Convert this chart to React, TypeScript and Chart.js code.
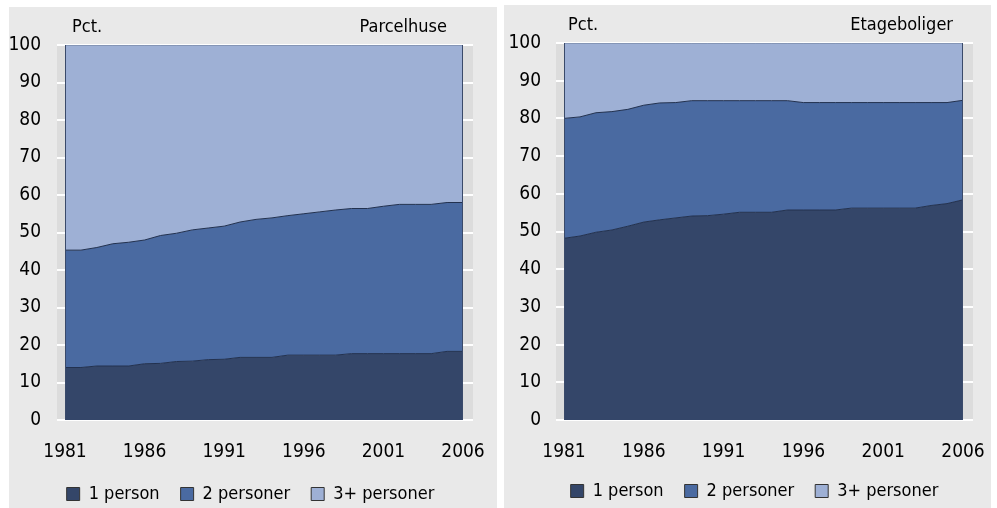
import React, { useEffect, useRef } from 'react';
import { Chart, registerables } from 'chart.js';

Chart.register(...registerables);

const YEARS = ['1981','1982','1983','1984','1985','1986','1987','1988','1989','1990','1991','1992','1993','1994','1995','1996','1997','1998','1999','2000','2001','2002','2003','2004','2005','2006'];
const SERIES_LABELS = ['1 person', '2 personer', '3+ personer'];

// Parcelhuse (percent shares)
const PARCEL_ONE = [14.0,14.0,14.4,14.4,14.4,15.0,15.1,15.6,15.7,16.1,16.2,16.7,16.7,16.7,17.3,17.3,17.3,17.3,17.7,17.7,17.7,17.7,17.7,17.7,18.3,18.3];
const PARCEL_TWO = [31.3,31.3,31.6,32.6,33.0,33.0,34.1,34.2,35.0,35.1,35.5,36.1,36.8,37.2,37.2,37.7,38.2,38.7,38.7,38.7,39.3,39.8,39.8,39.8,39.7,39.7];
const PARCEL_THREE = [54.7,54.7,54.0,53.0,52.6,52.0,50.8,50.2,49.3,48.8,48.3,47.2,46.5,46.1,45.5,45.0,44.5,44.0,43.6,43.6,43.0,42.5,42.5,42.5,42.0,42.0];

// Etageboliger (percent shares)
const ETAGE_ONE = [48.2,48.8,49.8,50.4,51.4,52.5,53.1,53.6,54.1,54.2,54.6,55.1,55.1,55.1,55.7,55.7,55.7,55.7,56.2,56.2,56.2,56.2,56.2,56.9,57.4,58.4];
const ETAGE_TWO = [31.8,31.6,31.7,31.4,31.0,31.0,31.0,30.6,30.6,30.5,30.1,29.6,29.6,29.6,29.0,28.5,28.5,28.5,28.0,28.0,28.0,28.0,28.0,27.3,26.8,26.4];
const ETAGE_THREE = [20.0,19.6,18.5,18.2,17.6,16.5,15.9,15.8,15.3,15.3,15.3,15.3,15.3,15.3,15.3,15.8,15.8,15.8,15.8,15.8,15.8,15.8,15.8,15.8,15.8,15.2];

const FONT = '"DejaVu Sans Condensed", "DejaVu Sans", sans-serif';
const COLORS = ['#344669', '#4a6aa1', '#9eb0d5'];
const EDGE = '#22314f';
const TOP_EDGE = '#6a7a98';
const PANEL_BG = '#e9e9e9';
const BAND_BG = '#dcdcdc';

type PanelProps = {
  title: string;
  one: number[];
  two: number[];
  three: number[];
  left: number;
  top: number;
  width: number;
  height: number;
  padL: number;
  padR: number;
  yW: number;
  yPad: number;
  rW: number;
  xH: number;
  padTop: number;
  padBottom: number;
  pctDx: number;
  titleDx: number;
};

function Panel(p: PanelProps) {
  const ref = useRef<HTMLCanvasElement | null>(null);
  useEffect(() => {
    if (!ref.current) return;
    const numFont = { family: FONT, size: 19 };
    const txtFont = { family: FONT, size: 18 };
    const decor = {
      id: 'decor',
      beforeDatasetsDraw(chart: any) {
        const { ctx, chartArea: a, scales } = chart;
        const y = scales.y;
        ctx.save();
        ctx.fillStyle = BAND_BG;
        ctx.fillRect(a.left - 8, a.top, a.right - a.left + 18, a.bottom - a.top);
        ctx.strokeStyle = '#ffffff';
        ctx.lineWidth = 2;
        for (const t of y.ticks) {
          const py = Math.round(y.getPixelForValue(t.value));
          ctx.beginPath();
          ctx.moveTo(a.left - 8, py);
          ctx.lineTo(a.right + 10, py);
          ctx.stroke();
        }
        ctx.restore();
      },
      afterDatasetsDraw(chart: any) {
        const { ctx, chartArea: a } = chart;
        ctx.save();
        ctx.strokeStyle = '#3a4a6a';
        ctx.lineWidth = 1;
        ctx.beginPath();
        ctx.moveTo(a.left + 0.5, a.bottom);
        ctx.lineTo(a.left + 0.5, a.top);
        ctx.moveTo(a.right - 0.5, a.bottom);
        ctx.lineTo(a.right - 0.5, a.top);
        ctx.stroke();
        ctx.restore();
      },
      afterDraw(chart: any) {
        const { ctx, chartArea: a } = chart;
        ctx.save();
        ctx.fillStyle = '#000';
        ctx.font = `18px ${FONT}`;
        ctx.textBaseline = 'middle';
        ctx.textAlign = 'left';
        ctx.fillText('Pct.', a.left + p.pctDx, a.top - 18);
        ctx.textAlign = 'right';
        ctx.fillText(p.title, a.right - p.titleDx, a.top - 18);
        ctx.restore();
      },
    };
    const chart = new Chart(ref.current, {
      type: 'line',
      data: {
        labels: YEARS,
        datasets: [
          { label: SERIES_LABELS[0], data: p.one, backgroundColor: COLORS[0], borderColor: EDGE, borderWidth: 1, fill: 'origin', pointRadius: 0, tension: 0 },
          { label: SERIES_LABELS[1], data: p.two, backgroundColor: COLORS[1], borderColor: EDGE, borderWidth: 1, fill: '-1', pointRadius: 0, tension: 0 },
          { label: SERIES_LABELS[2], data: p.three, backgroundColor: COLORS[2], borderColor: TOP_EDGE, borderWidth: 1, fill: '-1', pointRadius: 0, tension: 0 },
        ],
      },
      options: {
        animation: false,
        responsive: false,
        maintainAspectRatio: false,
        layout: { padding: { top: p.padTop, bottom: p.padBottom, left: p.padL, right: p.padR } },
        plugins: {
          legend: {
            position: 'bottom',
            labels: {
              boxWidth: 13,
              boxHeight: 13,
              padding: 21,
              color: '#000',
              font: txtFont,
              generateLabels: (chart: any) =>
                chart.data.datasets.map((ds: any, i: number) => ({
                  text: ds.label,
                  fillStyle: ds.backgroundColor,
                  strokeStyle: '#333333',
                  lineWidth: 1,
                  hidden: false,
                  datasetIndex: i,
                  fontColor: '#000',
                })),
            },
          },
          tooltip: { enabled: false },
        },
        scales: {
          x: {
            grid: { display: false, drawTicks: true, tickLength: 21 },
            border: { display: false },
            ticks: {
              autoSkip: false,
              maxRotation: 0,
              minRotation: 0,
              padding: 0,
              color: '#000',
              font: numFont,
              callback: (_v: any, i: number) => (i % 5 === 0 ? YEARS[i] : ''),
            },
            afterFit: (s: any) => { s.height = p.xH; },
          },
          y: {
            stacked: true,
            min: 0,
            max: 100,
            grid: { display: false, drawTicks: true, tickLength: p.yPad },
            border: { display: false },
            ticks: { stepSize: 10, padding: 0, color: '#000', font: numFont },
            afterFit: (s: any) => { s.width = p.yW; },
          },
          yR: {
            position: 'right',
            display: true,
            grid: { display: false, drawTicks: false },
            border: { display: false },
            ticks: { display: false, padding: 0 },
            afterFit: (s: any) => { s.width = p.rW; },
          },
        },
      } as any,
      plugins: [decor],
    });
    return () => chart.destroy();
  }, []);
  return (
    <div style={{ position: 'absolute', left: p.left, top: p.top, width: p.width, height: p.height, background: PANEL_BG, overflow: 'hidden' }}>
      <canvas ref={ref} width={p.width} height={510} style={{ display: 'block', width: p.width, height: 510 }} />
    </div>
  );
}

export default function App() {
  return (
    <div style={{ position: 'fixed', left: 0, top: 0, width: 997, height: 508, background: '#fff', overflow: 'hidden' }}>
      <Panel title="Parcelhuse" one={PARCEL_ONE} two={PARCEL_TWO} three={PARCEL_THREE}
        left={9} top={7} width={488} height={501}
        padL={0} padR={5} yW={56} yPad={24} rW={29} xH={44} padTop={38} padBottom={4} pctDx={7} titleDx={16} />
      <Panel title="Etageboliger" one={ETAGE_ONE} two={ETAGE_TWO} three={ETAGE_THREE}
        left={504} top={5} width={487} height={503}
        padL={0} padR={-14} yW={60} yPad={23} rW={42} xH={41} padTop={38} padBottom={5} pctDx={4} titleDx={10} />
    </div>
  );
}
